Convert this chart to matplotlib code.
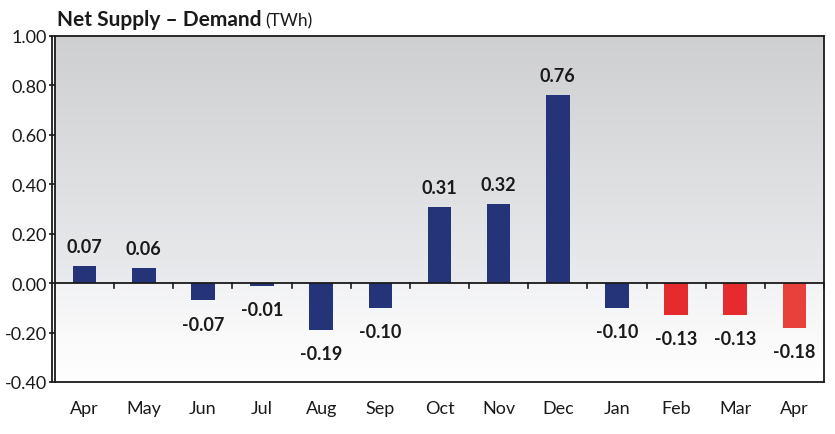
import numpy as np
import matplotlib
matplotlib.use("Agg")
import matplotlib.pyplot as plt
from matplotlib.lines import Line2D

months = ["Apr", "May", "Jun", "Jul", "Aug", "Sep", "Oct", "Nov", "Dec", "Jan", "Feb", "Mar", "Apr"]
values = [0.07, 0.06, -0.07, -0.01, -0.19, -0.10, 0.31, 0.32, 0.76, -0.10, -0.13, -0.13, -0.18]
colors = ["#253479"] * 10 + ["#e52b2d", "#e52b2d", "#e8413c"]
yticks = [-0.40, -0.20, 0.00, 0.20, 0.40, 0.60, 0.80, 1.00]

plt.rcParams['font.family'] = ['Lato', 'DejaVu Sans']

fig = plt.figure(figsize=(8.35, 4.35), dpi=100)
L, R, T, B = 55/835, 824/835, 1-37/435, 1-383/435
ax = fig.add_axes([L, B, R-L, T-B])

n = len(months)
x = np.arange(n)
ax.set_xlim(-0.5, n-0.5)
ax.set_ylim(-0.4, 1.0)

# background gradients
top = np.linspace(0, 1, 256).reshape(-1, 1)
c_top = np.array([0.81, 0.812, 0.82])
c_mid = np.array([0.915, 0.92, 0.93])
grad_up = c_mid[None, None, :] * (1 - top[..., None]) + c_top[None, None, :] * top[..., None]
ax.imshow(grad_up, extent=[-0.5, n-0.5, 0, 1.0], origin='lower', aspect='auto', zorder=0)
c_z = np.array([0.95, 0.952, 0.958])
c_b = np.array([1.0, 1.0, 1.0])
grad_dn = c_b[None, None, :] * (1 - top[..., None]) + c_z[None, None, :] * top[..., None]
ax.imshow(grad_dn, extent=[-0.5, n-0.5, -0.4, 0], origin='lower', aspect='auto', zorder=0)

ax.bar(x, values, width=0.4, color=colors, zorder=2)
ax.axhline(0, color="#1a1a1a", lw=1.3, zorder=3)

# boundary tick marks along zero line
for b in np.arange(0.5, n, 1):
    ax.plot([b, b], [0, -0.02], color="#1a1a1a", lw=1.2, zorder=3, clip_on=False)

for xi, v in zip(x, values):
    if v >= 0:
        ax.annotate(f"{v:.2f}", (xi, v), xytext=(0, 14), textcoords="offset points",
                    ha="center", va="center", fontsize=13, fontweight="bold", color="#1a1a1a")
    else:
        ax.annotate(f"{v:.2f}", (xi, v), xytext=(0, -17), textcoords="offset points",
                    ha="center", va="center", fontsize=13, fontweight="bold", color="#1a1a1a")

ax.set_xticks(x)
ax.set_xticklabels(months, fontsize=13, color="#1a1a1a")
ax.tick_params(axis='x', length=0, pad=13)
ax.set_yticks(yticks)
ax.set_yticklabels([f"{t:.2f}" for t in yticks], fontsize=13, color="#1a1a1a")
ax.tick_params(axis='y', length=4, width=1.2, color="#1a1a1a", pad=2, direction='out')

for s in ax.spines.values():
    s.set_color("#1a1a1a")
    s.set_linewidth(1.3)

# double left line
fig.add_artist(Line2D([L - 3/835, L - 3/835], [B, T], transform=fig.transFigure, color="#1a1a1a", lw=1.3))

title = fig.text(57/835, 1-26/435, "Net Supply – Demand", fontsize=15, fontweight="bold", color="#1a1a1a",
                 ha="left", va="baseline")
fig.canvas.draw()
bb = title.get_window_extent().transformed(fig.transFigure.inverted())
fig.text(bb.x1 + 4/835, 1-26/435, "(TWh)", fontsize=12.5, color="#1a1a1a", ha="left", va="baseline")

fig.savefig("out.png", dpi=100)
